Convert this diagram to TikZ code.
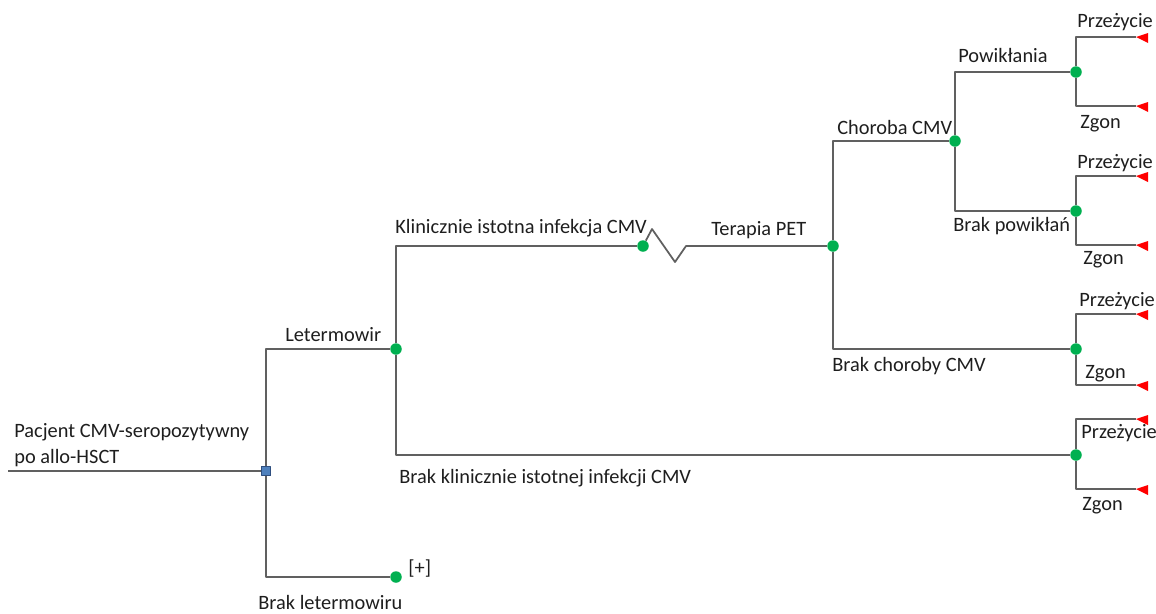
\documentclass[tikz,border=0pt]{standalone}
\usepackage{fontspec}
\setmainfont{Carlito}
\definecolor{branch}{HTML}{606060}
\definecolor{chance}{HTML}{00B050}
\definecolor{decis}{HTML}{4F81BD}
\definecolor{decisdk}{HTML}{2F4F7F}
\definecolor{ink}{HTML}{1E1E1E}
\definecolor{termred}{HTML}{FF0000}
\tikzset{fig/.style={line join=round},
  br/.style={branch,line width=1pt},
  chn/.style={circle,fill=chance,inner sep=0pt,minimum size=0.23cm},
  dec/.style={rectangle,fill=decis,draw=decisdk,line width=0.6pt,inner sep=0pt,minimum size=0.18cm},
  lbl/.style={inner sep=0pt,anchor=base west,ink,font=\fontsize{11.6}{14.7}\selectfont}}

\begin{document}
\begin{tikzpicture}[fig,x=0.02cm,y=-0.02cm]
  \useasboundingbox (0,0) rectangle (1156,613);
  % decision and chance nodes
  \coordinate (start) at (8,471);
  \node[dec] (root) at (266,471) {};
  \node[chn] (let) at (396,349) {};
  \node[chn] (nolet) at (396,577) {};
  \node[chn] (inf) at (643,246) {};
  \node[chn] (pet) at (833,246) {};
  \node[chn] (cmv) at (955,141) {};
  \node[chn] (comp) at (1076,72) {};
  \node[chn] (nocomp) at (1076,211) {};
  \node[chn] (nocmv) at (1076,349) {};
  \node[chn] (noinf) at (1076,455) {};
  % terminal ends
  \coordinate (comp-a) at (1136,37);   \coordinate (comp-b) at (1136,106);
  \coordinate (nocomp-a) at (1136,176);\coordinate (nocomp-b) at (1136,245);
  \coordinate (nocmv-a) at (1136,314); \coordinate (nocmv-b) at (1136,385);
  \coordinate (noinf-a) at (1136,419); \coordinate (noinf-b) at (1136,489);
  % branches
  \draw[br] (start) -- (root);
  \draw[br] (root) |- (let);
  \draw[br] (root) |- (nolet);
  \draw[br] (let) |- (inf);
  \draw[br] (let) |- (noinf);
  \draw[br] (inf) -- ++(9,-17) -- ++(23,33) -- ++(11,-16) -- (pet);
  \draw[br] (pet) |- (cmv);
  \draw[br] (pet) |- (nocmv);
  \draw[br] (cmv) |- (comp);
  \draw[br] (cmv) |- (nocomp);
  \foreach \n in {comp,nocomp,nocmv,noinf}{
    \draw[br] (\n) |- (\n-a);
    \draw[br] (\n) |- (\n-b);
  }
  % labels
  \node[lbl] (l-pat1) at (14,437) {Pacjent CMV-seropozytywny};
  \node[lbl] (l-pat2) at (14,463) {po allo-HSCT};
  \node[lbl] (l-let) at (285,341) {Letermowir};
  \node[lbl] (l-nolet) at (258,609) {Brak letermowiru};
  \node[lbl] (l-plus) at (408,574) {[+]};
  \node[lbl] (l-inf) at (395,233) {Klinicznie istotna infekcja CMV};
  \node[lbl] (l-pet) at (711,235) {Terapia PET};
  \node[lbl] (l-noinf) at (399,483) {Brak klinicznie istotnej infekcji CMV};
  \node[lbl] (l-cmv) at (837,134) {Choroba CMV};
  \node[lbl] (l-nocmv) at (832,371) {Brak choroby CMV};
  \node[lbl] (l-comp) at (958,62) {Powikłania};
  \node[lbl] (l-nocomp) at (953,231) {Brak powikłań};
  \node[lbl] (l-comp-a) at (1077,27) {Przeżycie};
  \node[lbl] (l-comp-b) at (1080,128) {Zgon};
  \node[lbl] (l-nocomp-a) at (1077,168) {Przeżycie};
  \node[lbl] (l-nocomp-b) at (1083,264) {Zgon};
  \node[lbl] (l-nocmv-a) at (1079,306) {Przeżycie};
  \node[lbl] (l-nocmv-b) at (1085,378) {Zgon};
  \node[lbl] (l-noinf-a) at (1081,438) {Przeżycie};
  \node[lbl] (l-noinf-b) at (1082,510) {Zgon};
  % red end markers
  \foreach \t in {comp-a,comp-b,nocomp-a,nocomp-b,nocmv-a,nocmv-b,noinf-a,noinf-b}
    \fill[termred] (\t) -- ++(12,-4) -- ++(0,10) -- cycle;
\end{tikzpicture}
\end{document}
